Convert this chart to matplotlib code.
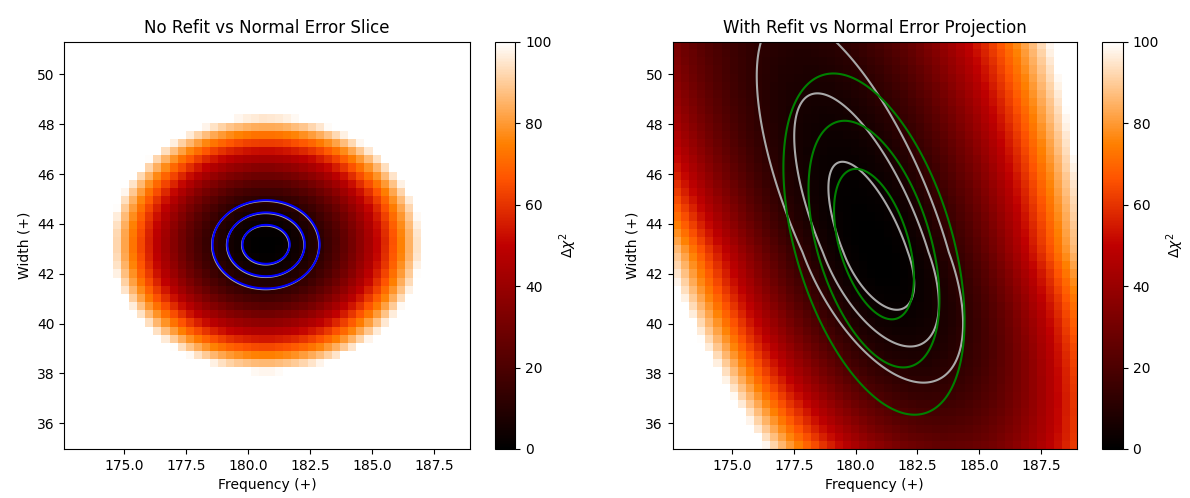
import numpy as np
import matplotlib
matplotlib.use("Agg")
import matplotlib.pyplot as plt

# grid window (frequency, width) and resolution
freq_range = [172.6, 188.94]
width_range = [34.97, 51.31]
n_cells = 50

# contour levels for 68 / 95 / 99.7 % (2 dof)
levels = [2.30, 6.18, 11.83]

# left: slice around the best fit (no refit)
slice_center = [180.73, 43.18]
slice_sigma = [0.627, 0.515]
slice_grey_shift = [-0.02, -0.03]

# right: projection with refit (profile surface)
proj_center = [180.81, 42.86]
proj_slope = -0.37            # ridge dx/dy
proj_sigma_x = [0.86, 0.025]  # base, growth per unit dy above min
proj_sigma_dn = 1.52
proj_sigma_up = [2.17, 0.062]

# right: covariance ellipse from normal errors
cov_center = [180.74, 43.19]
cov_sigma = [1.065, 1.99]
cov_xy = -0.95

fe = np.linspace(freq_range[0], freq_range[1], n_cells + 1)
we = np.linspace(width_range[0], width_range[1], n_cells + 1)
fc = 0.5 * (fe[1:] + fe[:-1])
wc = 0.5 * (we[1:] + we[:-1])
F, W = np.meshgrid(fc, wc)
ff = np.linspace(freq_range[0], freq_range[1], 400)
ww = np.linspace(width_range[0], width_range[1], 400)
FF, WW = np.meshgrid(ff, ww)


def slice_chi2(f, w, shift=(0, 0)):
    return (((f - slice_center[0] - shift[0]) / slice_sigma[0]) ** 2
            + ((w - slice_center[1] - shift[1]) / slice_sigma[1]) ** 2)


def proj_chi2(f, w):
    dx = f - proj_center[0]
    dy = w - proj_center[1]
    up = np.clip(dy, 0, None)
    sx = proj_sigma_x[0] + proj_sigma_x[1] * up
    sy = np.where(dy < 0, proj_sigma_dn, proj_sigma_up[0] + proj_sigma_up[1] * up)
    return ((dx - proj_slope * dy) / sx) ** 2 + (dy / sy) ** 2


def cov_chi2(f, w):
    c = np.array([[cov_sigma[0] ** 2, cov_xy], [cov_xy, cov_sigma[1] ** 2]])
    ci = np.linalg.inv(c)
    dx = f - cov_center[0]
    dy = w - cov_center[1]
    return ci[0, 0] * dx * dx + 2 * ci[0, 1] * dx * dy + ci[1, 1] * dy * dy


fig = plt.figure(figsize=(11.9, 4.98), dpi=100)
ax1 = fig.add_axes([0.0540, 0.0984, 0.3409, 0.8179])
cax1 = fig.add_axes([0.4160, 0.0984, 0.0170, 0.8179])
ax2 = fig.add_axes([0.5653, 0.0984, 0.3395, 0.8179])
cax2 = fig.add_axes([0.9258, 0.0984, 0.0178, 0.8179])

ext = [freq_range[0], freq_range[1], width_range[0], width_range[1]]

im1 = ax1.imshow(slice_chi2(F, W), origin="lower", extent=ext, cmap="gist_heat",
                 vmin=0, vmax=100, aspect="auto", interpolation="nearest")
ax1.contour(FF, WW, slice_chi2(FF, WW, slice_grey_shift), levels=levels, colors="darkgray", linewidths=1.5)
ax1.contour(FF, WW, slice_chi2(FF, WW), levels=levels, colors="blue", linewidths=1.5)
ax1.set_title("No Refit vs Normal Error Slice", fontsize=12)
ax1.set_xlabel("Frequency (+)")
ax1.set_ylabel("Width (+)")
cb1 = fig.colorbar(im1, cax=cax1)
cb1.set_label(r"$\Delta\chi^2$")

im2 = ax2.imshow(proj_chi2(F, W), origin="lower", extent=ext, cmap="gist_heat",
                 vmin=0, vmax=100, aspect="auto", interpolation="nearest")
ax2.contour(FF, WW, proj_chi2(FF, WW), levels=levels, colors="darkgray", linewidths=1.5)
ax2.contour(FF, WW, cov_chi2(FF, WW), levels=levels, colors="green", linewidths=1.5)
ax2.set_title("With Refit vs Normal Error Projection", fontsize=12)
ax2.set_xlabel("Frequency (+)")
ax2.set_ylabel("Width (+)")
cb2 = fig.colorbar(im2, cax=cax2)
cb2.set_label(r"$\Delta\chi^2$")

for ax in (ax1, ax2):
    ax.set_xlim(freq_range)
    ax.set_ylim(width_range)
    ax.set_xticks([175.0, 177.5, 180.0, 182.5, 185.0, 187.5])
    ax.set_yticks([36, 38, 40, 42, 44, 46, 48, 50])

fig.savefig("out.png", dpi=100)
